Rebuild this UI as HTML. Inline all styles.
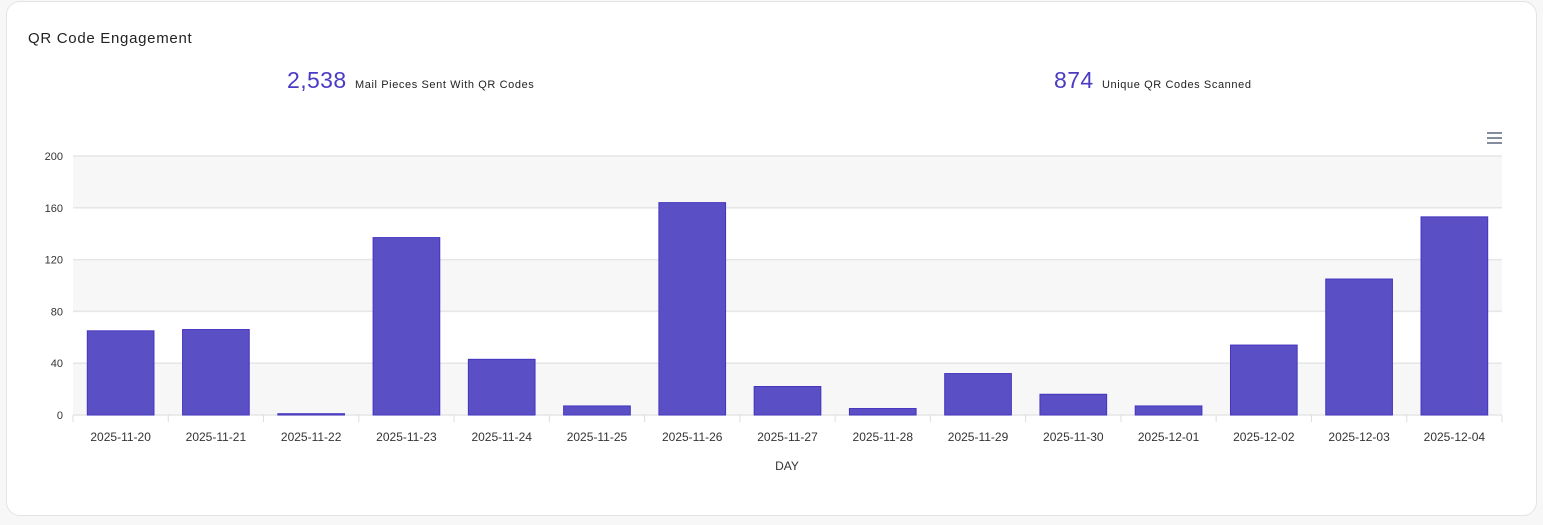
<!DOCTYPE html>
<html><head><meta charset="utf-8"><style>
body{margin:0;background:#f7f7f8;font-family:"Liberation Sans",sans-serif;width:1543px;height:525px;overflow:hidden}
.card{position:absolute;left:6px;top:1px;width:1529px;height:513px;background:#fff;border:1px solid #e3e3e8;border-radius:14px}
</style></head><body>
<div class="card"></div>
<svg width="1543" height="525" style="position:absolute;left:0;top:0">
<text x="28" y="43" font-size="15" letter-spacing="0.7" fill="#222">QR Code Engagement</text>
<text x="287" y="88" font-size="23" letter-spacing="0.4" fill="#4a3bc4">2,538</text>
<text x="355" y="88" font-size="11" letter-spacing="0.6" fill="#222">Mail Pieces Sent With QR Codes</text>
<text x="1054" y="88" font-size="23" letter-spacing="0.4" fill="#4a3bc4">874</text>
<text x="1102" y="88" font-size="11" letter-spacing="0.6" fill="#222">Unique QR Codes Scanned</text>
<g stroke="#667085" stroke-width="1.6">
<line x1="1487" y1="133" x2="1502" y2="133"/><line x1="1487" y1="138" x2="1502" y2="138"/><line x1="1487" y1="143" x2="1502" y2="143"/></g>
<g id="bands"></g><g id="grid"></g><g id="bars"></g><g id="axes"></g>
<text x="787" y="470" font-size="12" fill="#333" text-anchor="middle">DAY</text>
</svg>
<script>
const categories=["2025-11-20","2025-11-21","2025-11-22","2025-11-23","2025-11-24","2025-11-25","2025-11-26","2025-11-27","2025-11-28","2025-11-29","2025-11-30","2025-12-01","2025-12-02","2025-12-03","2025-12-04"];
const values=[65,66,1,137,43,7,164,22,5,32,16,7,54,105,153];
const yTicks=[0,40,80,120,160,200];
const X0=73,X1=1502,Y0=415,Y1=156,YMAX=200;
const y=v=>Y0-(v/YMAX)*(Y0-Y1);
const bw=(X1-X0)/categories.length;
const x=i=>X0+i*bw;
const NS="http://www.w3.org/2000/svg";
function mk(t,a,p){const e=document.createElementNS(NS,t);for(const k in a)e.setAttribute(k,a[k]);document.getElementById(p).appendChild(e);return e;}
for(let i=0;i<yTicks.length-1;i+=2){
 const r=mk('rect',{x:X0,y:y(yTicks[i+1]),width:X1-X0,height:y(yTicks[i])-y(yTicks[i+1]),fill:'#f7f7f7'},'bands');
 
 
}
yTicks.forEach(t=>{
 const l=mk('line',{x1:X0,x2:X1,y1:y(t),y2:y(t),stroke:'#e6e6e6','stroke-width':1.5},'grid');
 
 
 const tx=mk('text',{x:63,y:y(t)+4,'font-size':11,fill:'#333','text-anchor':'end'},'axes');tx.textContent=t;
 
 
});
categories.forEach((c,i)=>{
 const b=mk('rect',{x:x(i)+bw*0.15,y:y(values[i]),width:bw*0.7,height:Math.max(0.5,Y0-y(values[i])),fill:'#5a4fc4',stroke:'#4535bf','stroke-width':1},'bars');
 
 
 const tk=mk('line',{x1:x(i),x2:x(i),y1:Y0,y2:Y0+7,stroke:'#ddd'},'axes');
 
 
 const t=mk('text',{x:x(i)+bw/2,y:441,'font-size':12,fill:'#333','text-anchor':'middle'},'axes');t.textContent=c;
 
 
});
const e=mk('line',{x1:X1,x2:X1,y1:Y0,y2:Y0+7,stroke:'#ddd'},'axes');


</script>
</body></html>
